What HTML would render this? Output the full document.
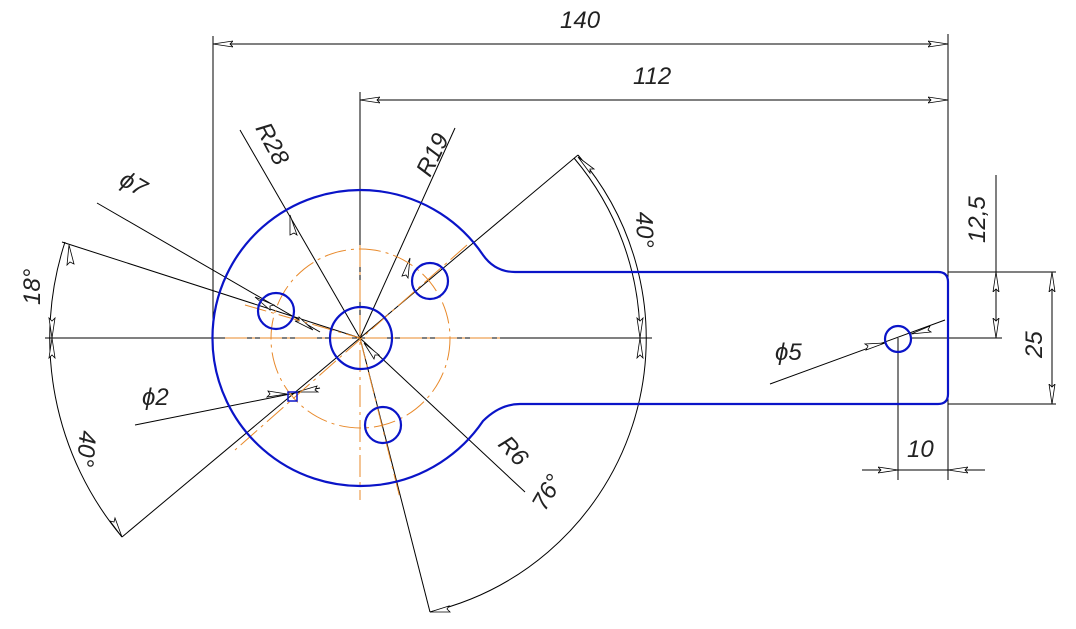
<!DOCTYPE html>
<html><head><style>body{margin:0;background:#fff}svg{display:block}text{font-family:"Liberation Sans",sans-serif;font-style:italic;font-size:24px;fill:#222}</style></head><body>
<svg width="1076" height="629" viewBox="0 0 1076 629" xmlns="http://www.w3.org/2000/svg">
<defs><marker id="a" viewBox="0 0 20 8" refX="20" refY="4" markerWidth="20" markerHeight="8" markerUnits="userSpaceOnUse" orient="auto-start-reverse"><path d="M20,4 L0,1 L3,4 L0,7 Z" fill="#fff" stroke="#000" stroke-width="0.8"/></marker></defs>
<g stroke="#000" stroke-width="1" fill="none">
<line x1="213" y1="36" x2="213" y2="338"/><line x1="360" y1="92" x2="360" y2="338"/><line x1="948" y1="34" x2="948" y2="480"/>
<line x1="213" y1="44" x2="948" y2="44" marker-start="url(#a)" marker-end="url(#a)"/>
<line x1="360" y1="100" x2="948" y2="100" marker-start="url(#a)" marker-end="url(#a)"/>
<line x1="948" y1="272" x2="1056" y2="272"/><line x1="948" y1="404" x2="1056" y2="404"/><line x1="912" y1="338" x2="1002" y2="338"/>
<line x1="996" y1="175" x2="996" y2="338"/>
<line x1="996" y1="272" x2="996" y2="338" marker-start="url(#a)" marker-end="url(#a)"/>
<line x1="1052" y1="272" x2="1052" y2="404" marker-start="url(#a)" marker-end="url(#a)"/>
<line x1="898" y1="338" x2="898" y2="480"/>
<line x1="862" y1="470" x2="985" y2="470"/>
<line x1="870" y1="470" x2="898" y2="470" marker-end="url(#a)"/>
<line x1="948" y1="470" x2="976" y2="470" marker-start="url(#a)"/>
<line x1="45" y1="338" x2="652" y2="338"/>
<line x1="62" y1="242" x2="360" y2="338"/><line x1="122" y1="537" x2="360" y2="338"/>
<line x1="578" y1="155" x2="360" y2="338"/><line x1="430" y1="612" x2="360" y2="338"/>
<line x1="240" y1="130" x2="360" y2="338"/><line x1="455" y1="128" x2="360" y2="338"/>
<line x1="97" y1="203" x2="320" y2="332"/><line x1="360" y1="338" x2="525" y2="492"/>
<line x1="135" y1="425" x2="320" y2="388"/><line x1="770" y1="384" x2="945" y2="320"/>
<path d="M65,242 A310,310 0 0 0 122,537" />
<path d="M640,338 A280,280 0 0 0 574,158" />
<path d="M578,155 A281,281 0 0 1 430,612" />
</g>
<g fill="#fff" stroke="#000" stroke-width="0.8">
<path d="M52,338 l-3,-20 l3,3 l3,-3 z"/><path d="M52,338 l-3,20 l3,-3 l3,3z"/>
<path d="M69,245 l-2,20 l3,-3 l4,2z"/><path d="M122,537 l-12,-16 l4,1 l1,-4z"/>
<path d="M640,338 l-3,-20 l3,3 l3,-3z"/><path d="M640,338 l-3,20 l3,-3 l3,3z"/>
<path d="M578,157 l16,12 l-4,0 l0,4z"/><path d="M430,612 l19,-6 l-2,3 l3,3z"/>
<path d="M290,215 l7,20 l-3,-2 l-4,2z"/><path d="M410,258 l-8,18 l4,-1 l2,3z"/>
<path d="M255,297 l19,8 l-4,1 l0,4z"/><path d="M313,330 l-18,-9 l4,0 l0,-4z"/>
<path d="M364,343 l15,12 l-4,0 l-1,4z"/>
<path d="M287,394 l-20,3 l3,-3 l-2,-3z"/><path d="M297,392 l20,-6 l-2,4 l3,2z"/>
<path d="M885,343 l-19,7 l2,-4 l-3,-2z"/><path d="M911,334 l19,-8 l-2,4 l3,2z"/>
</g>
<g stroke="#e8892a" stroke-width="1" fill="none" stroke-dasharray="22,5,3,5">
<circle cx="360.5" cy="338.5" r="89.5"/>
<line x1="225" y1="338" x2="505" y2="338"/><line x1="360" y1="245" x2="360" y2="500"/>
<line x1="245" y1="305" x2="360" y2="338"/><line x1="467" y1="245" x2="235" y2="450"/>
<line x1="360" y1="338" x2="400" y2="498"/>
</g>
<g stroke="#0a14c8" stroke-width="2.2" fill="none">
<path d="M483,255 A148,148 0 1 0 483,421 Q500,404 520,404 L938,404 Q948,404 948,394 L948,282 Q948,272 938,272 L515,272 Q495,272 483,255 Z"/>
<circle cx="361" cy="338" r="31"/>
<circle cx="276" cy="311" r="18"/><circle cx="430" cy="281" r="18"/><circle cx="383" cy="425" r="18"/>
<rect x="288" y="392" width="9" height="9" stroke-width="1.5"/>
<circle cx="898" cy="339" r="13"/>
</g>
<text x="560" y="28">140</text>
<text x="633" y="84">112</text>
<text transform="translate(255,128) rotate(62)">R28</text>
<text transform="translate(430,178) rotate(-64)">R19</text>
<text transform="translate(118,184) rotate(30)">ϕ7</text>
<text transform="translate(40,305) rotate(-90)">18°</text>
<text transform="translate(636,212) rotate(88)">40°</text>
<text transform="translate(80,430) rotate(95)">40°</text>
<text x="142" y="405">ϕ2</text>
<text transform="translate(497,445) rotate(47)">R6</text>
<text transform="translate(545,512) rotate(-60)">76°</text>
<text x="775" y="360">ϕ5</text>
<text transform="translate(985,243) rotate(-90)">12,5</text>
<text transform="translate(1042,358) rotate(-90)">25</text>
<text x="907" y="457">10</text>
</svg>
</body></html>
